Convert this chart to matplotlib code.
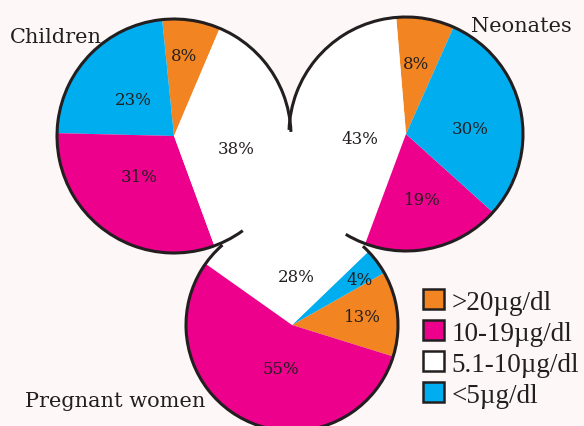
import numpy as np
import matplotlib.pyplot as plt
from matplotlib.patches import Arc, Patch, Polygon

# legend order: >20, 10-19, 5.1-10, <5
categories = [">20µg/dl", "10-19µg/dl", "5.1-10µg/dl", "<5µg/dl"]
colors = ["#f28522", "#ec008c", "#ffffff", "#00aeef"]

groups = ["Children", "Neonates", "Pregnant women"]
children = [8, 31, 38, 23]
neonates = [8, 19, 43, 30]
pregnant = [13, 55, 28, 4]

BG = "#fdf8f7"
INK = "#231f20"

# layout of each pie (pixel space, y up)
pies = [
    dict(values=children, center=(174, 290), r=117, start=67, order=[0, 3, 1, 2],
         lab_r=[0.69, 0.46, 0.54, 0.47], lab_da=[1.6, -5, -10, 0.6], arc=(2, 306)),
    dict(values=neonates, center=(406, 292), r=117, start=66, order=[0, 2, 1, 3],
         lab_r=[0.61, 0.58, 0.40, 0.55], lab_da=[1.6, 0, 13, -7.5], arc=(239, 538)),
    dict(values=pregnant, center=(292, 101), r=106, start=-17.3, order=[0, 3, 2, 1],
         lab_r=[0.67, 0.42, 0.46, 0.77], lab_da=[1, 12, -9, -2.7], arc=(131, 408)),
]

fig = plt.figure(figsize=(5.84, 4.27), dpi=100, facecolor=BG)
ax = fig.add_axes([0, 0, 1, 1])
ax.set_facecolor(BG)

# white gap between the three circles
tri = [p["center"] for p in pies]
ax.add_patch(Polygon(tri, closed=True, facecolor="white", edgecolor="none", zorder=0.5))

for p in pies:
    vals = [p["values"][i] for i in p["order"]]
    cols = [colors[i] for i in p["order"]]
    wedges, _ = ax.pie(vals, colors=cols, startangle=p["start"], counterclock=True,
                       radius=p["r"], center=p["center"], frame=True,
                       wedgeprops=dict(linewidth=0))
    for w, i in zip(wedges, p["order"]):
        mid = (w.theta1 + w.theta2) / 2 + p["lab_da"][i]
        rr = p["r"] * p["lab_r"][i]
        x = p["center"][0] + rr * np.cos(np.radians(mid))
        y = p["center"][1] + rr * np.sin(np.radians(mid))
        ax.text(x, y, f"{p['values'][i]}%", ha="center", va="center",
                fontsize=12, family="DejaVu Serif", color=INK, zorder=5)
    ax.add_patch(Arc(p["center"], 2 * p["r"], 2 * p["r"], theta1=p["arc"][0],
                     theta2=p["arc"][1], lw=2.2, color=INK, zorder=4))

ax.text(10, 384, groups[0], fontsize=15, family="DejaVu Serif", color=INK, va="baseline")
ax.text(572, 395, groups[1], fontsize=15, family="DejaVu Serif", color=INK,
        va="baseline", ha="right")
ax.text(25, 20, groups[2], fontsize=15, family="DejaVu Serif", color=INK, va="baseline")

handles = [Patch(facecolor=c, edgecolor=INK, linewidth=1.8) for c in colors]
ax.legend(handles, categories, loc="upper left", bbox_to_anchor=(423 / 584, 1 - 290 / 427),
          frameon=False, prop=dict(family="Liberation Serif", size=19.5),
          handlelength=0.78, handleheight=0.78, handletextpad=0.28,
          labelspacing=0.2, borderpad=0, borderaxespad=0, labelcolor=INK)

ax.set_xlim(0, 584)
ax.set_ylim(0, 427)
ax.set_aspect("equal")
ax.axis("off")

fig.savefig("out.png", dpi=100, facecolor=BG)
